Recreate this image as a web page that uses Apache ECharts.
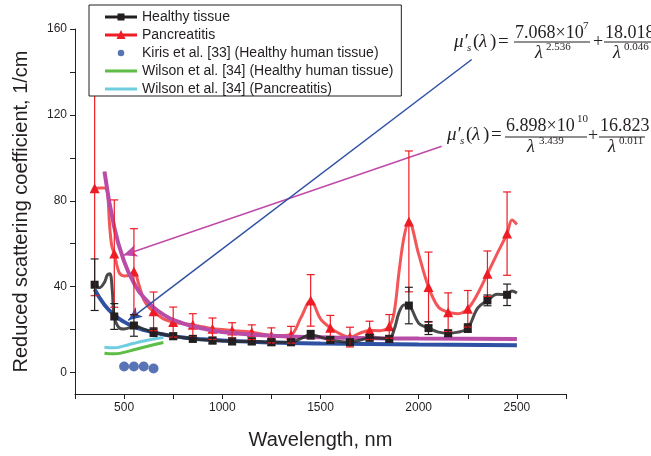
<!DOCTYPE html>
<html>
<head>
<meta charset="utf-8">
<script src="https://cdn.jsdelivr.net/npm/echarts@6/dist/echarts.min.js"></script>
<style>html,body{margin:0;padding:0;background:#fff}#c{width:651px;height:456px}</style>
</head>
<body>
<div id="c"></div>
<script>
// ---- data ----
const markerWl = [350,450,550,650,750,850,950,1050,1150,1250,1350,1450,1550,1650,1750,1850,1950,2050,2150,2250,2350,2450];
const healthy = [40.9,26.1,21.9,18.8,16.9,15.7,14.9,14.5,14.5,14.1,14.1,17.6,15.2,14.1,16.2,15.7,31.2,20.7,18.3,20.7,33.6,36.2];
const healthyErr = [12,6,5,2,1.5,1.5,1.5,1.5,1.5,1.5,1.5,2,1.5,1.5,1.5,1.5,8.5,3,1.5,2,2.5,5];
const panc = [85.8,55.4,47,28.5,23.5,22.2,20.4,19.6,18.8,17.3,17.6,33.6,20.8,16.5,19.6,21.5,70.4,39.8,28.1,29.7,46,64.7];
const pancErr = [50,25,20,9,7,5.2,5,3.6,3.4,3.5,3.9,12,5.8,4.6,4.3,5.5,32.8,16.3,9,8.5,10.6,19.4];
// intermediate points of the smoothed measured curves
const healthyExtraWl = [375,400,415,428,440,475,500,525,600,700,800,900,1000,1100,1200,1300,1400,1500,1600,1700,1800,1875,1900,1925,2000,2100,2200,2300,2400,2475,2500];
const healthyExtra = [39.5,42,45.5,46,38,20.8,20.3,20.8,20.2,17.8,16.3,15.3,14.7,14.4,14.3,14.1,15.8,16.5,14.4,15,16,20,28,31.5,23,18.8,18.8,30,36.5,38,37];
const pancExtraWl = [375,400,415,425,437,475,500,525,575,600,625,700,800,900,1000,1100,1200,1300,1400,1500,1600,1700,1800,1875,1900,1925,2000,2100,2200,2300,2400,2475,2500];
const pancExtra = [86,86,84,70,59,46.5,45,45.2,41,34,30.5,25,22.7,21.3,20,19.2,18,17.2,25.5,25,18,18.3,19.5,28,47,63,55,30.5,27.4,36.7,55.5,71,69];
const kirisWl = [500,550,600,650];
const kiris = [2.8,2.8,2.8,1.9];
const wilsonWl = [400,450,500,550,600,650,700];
const wilsonHealthy = [9.0,8.7,9.4,10.6,11.8,12.9,14.0];
const wilsonPanc = [11.8,11.5,12.4,13.6,14.7,15.6,16.3];
const fitHealthyWl = [350,400,450,500,550,600,700,800,900,1000,1200,1500,2000,2500];
const fitHealthy = [38.7,31.5,26.8,23.6,21.4,19.8,17.7,16.35,15.45,14.9,14.15,13.55,13.06,12.74];
const fitPancWl = [400,450,500,550,600,700,800,900,1000,1200,1500,2000,2500];
const fitPanc = [93.6,67.6,51.8,41.7,35,27,22.9,20.5,18.9,17.4,16.4,15.8,15.6];
const xLabels = [500,1000,1500,2000,2500];
const yLabels = [0,40,80,120,160];
const yTicks = [0,20,40,60,80,100,120,140,160];

const names = {
  h:'Healthy tissue', p:'Pancreatitis', k:'Kiris et al. [33] (Healthy human tissue)',
  wh:'Wilson et al. [34] (Healthy human tissue)', wp:'Wilson et al. [34] (Pancreatitis)'
};

function mergeCurve(mW, mV, eW, eV){
  const pts = mW.map((w,i)=>({value:[w,mV[i]]}));
  eW.forEach((w,i)=>pts.push({value:[w,eV[i]], symbol:'none'}));
  pts.sort((a,b)=>a.value[0]-b.value[0]);
  return pts;
}
const zip = (a,b)=>a.map((v,i)=>[v,b[i]]);

function errRender(color){
  return function(params, api){
    const x = api.value(0), y = api.value(1), e = api.value(2);
    const t = api.coord([x, y+e]), b = api.coord([x, y-e]);
    const hw = 4;
    const st = {stroke:color, lineWidth:1.2};
    return {type:'group', children:[
      {type:'line', shape:{x1:t[0],y1:t[1],x2:b[0],y2:b[1]}, style:st},
      {type:'line', shape:{x1:t[0]-hw,y1:t[1],x2:t[0]+hw,y2:t[1]}, style:st},
      {type:'line', shape:{x1:b[0]-hw,y1:b[1],x2:b[0]+hw,y2:b[1]}, style:st}
    ]};
  };
}

const TXT = '#231f20';
const SERIF = '"Liberation Serif","DejaVu Serif",serif';
function t(text, x, y, size, italic, align){
  return {type:'text', x:x, y:y, z:100, style:{text:text, fill:TXT,
    font:(italic?'italic ':'')+size+'px '+SERIF, align:align||'left', verticalAlign:'middle'}};
}
function hl(x1,x2,y){ return {type:'line', z:100, shape:{x1:x1,y1:y,x2:x2,y2:y}, style:{stroke:TXT, lineWidth:1}}; }

const graphics = [
  // equation 1
  t('μ′',454,42,19,true), t('s',467,48,11,true), t('(',473,42,19,false), t('λ',479,42,19,true), t(')',490,42,19,false), t('=',498,42,19,false),
  t('7.068×10',515,33,18,false), t('7',583,26,11,false), hl(514,590,42),
  t('λ',535,53,18,true), t('2.536',546,47,11,false),
  t('+',593,42,18,false),
  t('18.018',605,33,18,false), hl(604,651,42),
  t('λ',613,53,18,true), t('0.046',624,47,11,false),
  // equation 2
  t('μ′',447,135,19,true), t('s',460,141,11,true), t('(',466,135,19,false), t('λ',472,135,19,true), t(')',483,135,19,false), t('=',491,135,19,false),
  t('6.898×10',506,126,18,false), t('10',577,119,11,false), hl(505,587,137),
  t('λ',527,147,18,true), t('3.439',539,141,11,false),
  t('+',588,136,18,false),
  t('16.823',600,126,18,false), hl(599,645,137),
  t('λ',608,147,18,true), t('0.011',619,141,11,false)
];

// legend icon shapes in a 64x28 box (maps onto the 32x14 icon area)
const BOX = 'path://M0,0h0.01v0.01h-0.01zM64,28h-0.01v-0.01h0.01z';
const LINE = 'M0,11h64v6h-64z';
const chart = echarts.init(document.getElementById('c'), null, {renderer:'canvas'});
chart.setOption({
  animation:false,
  backgroundColor:'#fff',
  textStyle:{fontFamily:'"Liberation Sans", Arial, sans-serif', color:TXT},
  grid:{left:75, right:85, top:29, bottom:62},
  legend:{
    orient:'vertical', left:89, top:5, itemWidth:32, itemHeight:14, itemGap:4,
    padding:[5,8,0,16], borderColor:TXT, borderWidth:1, borderRadius:0, backgroundColor:'#fff',
    textStyle:{fontSize:14, color:TXT, lineHeight:14, fontFamily:'"Liberation Sans", Arial, sans-serif'},
    data:[
      {name:names.h, icon:BOX+LINE+'M25,7h14v14h-14z'},
      {name:names.p, icon:BOX+LINE+'M32,4L41,22L23,22Z'},
      {name:names.k, icon:BOX+'M38.5,14A6.5,6.5 0 1 1 25.5,14A6.5,6.5 0 1 1 38.5,14Z'},
      {name:names.wh, icon:BOX+LINE},
      {name:names.wp, icon:BOX+LINE}],
    z:10
  },
  xAxis:{
    type:'value', min:250, max:2750, interval:250,
    name:'Wavelength, nm', nameLocation:'middle', nameGap:36,
    nameTextStyle:{fontSize:20, color:TXT},
    axisLine:{onZero:false, lineStyle:{color:TXT, width:1}},
    axisTick:{length:5, lineStyle:{color:TXT}},
    axisLabel:{fontSize:12, color:TXT, margin:8, formatter:v=>xLabels.includes(v)?String(v):''},
    splitLine:{show:false}
  },
  yAxis:{
    type:'value', min:-10, max:160,
    name:'Reduced scattering coefficient, 1/cm', nameLocation:'middle', nameGap:44,
    nameTextStyle:{fontSize:20, color:TXT},
    axisLine:{show:true, onZero:false, lineStyle:{color:TXT, width:1}},
    axisTick:{show:true, length:5, lineStyle:{color:TXT}, customValues:yTicks},
    axisLabel:{fontSize:12, color:TXT, margin:8, customValues:yLabels},
    splitLine:{show:false}
  },
  graphic:graphics,
  series:[
    {name:names.p, type:'line', z:2, smooth:0.35, data:mergeCurve(markerWl,panc,pancExtraWl,pancExtra),
      symbol:'triangle', symbolSize:10, showAllSymbol:true,
      lineStyle:{color:'#f0383b', width:3, opacity:0.85}, itemStyle:{color:'#ee1c25'}},
    {name:'fitP', type:'line', z:3, smooth:true, data:zip(fitPancWl,fitPanc), symbol:'none',
      lineStyle:{color:'#b84ca7', width:4},
      markLine:{silent:true, symbol:['none','arrow'], symbolSize:[9,14], label:{show:false},
        lineStyle:{color:'#c04aa9', width:1.5, type:'solid'},
        data:[[{coord:[2117,105.4]},{coord:[496,54.6]}]]}},
    {name:'fitH', type:'line', z:3, smooth:true, data:zip(fitHealthyWl,fitHealthy), symbol:'none',
      lineStyle:{color:'#2f51a3', width:4},
      markLine:{silent:true, symbol:['none','arrow'], symbolSize:[9,14], label:{show:false},
        lineStyle:{color:'#2f51a3', width:1.5, type:'solid'},
        data:[[{coord:[2270,145.8]},{coord:[521,24.3]}]]}},
    {name:names.wh, type:'line', z:3, smooth:true, data:zip(wilsonWl,wilsonHealthy), symbol:'none',
      lineStyle:{color:'#5dbd45', width:3}, itemStyle:{color:'#5dbd45'}},
    {name:names.wp, type:'line', z:3, smooth:true, data:zip(wilsonWl,wilsonPanc), symbol:'none',
      lineStyle:{color:'#6fcde0', width:3}, itemStyle:{color:'#6fcde0'}},
    {name:names.k, type:'scatter', z:3, data:zip(kirisWl,kiris), symbol:'circle', symbolSize:10,
      itemStyle:{color:'#2f51a3'}},
    {name:names.h, type:'line', z:4, smooth:0.35, data:mergeCurve(markerWl,healthy,healthyExtraWl,healthyExtra),
      symbol:'rect', symbolSize:8, showAllSymbol:true,
      lineStyle:{color:'#2a2a2a', width:3, opacity:0.85}, itemStyle:{color:'#231f20'}},
    {name:'errP', type:'custom', z:5, renderItem:errRender('#ee1c25'),
      data:markerWl.map((w,i)=>[w,panc[i],pancErr[i]]), encode:{x:0,y:1}},
    {name:'errH', type:'custom', z:5, renderItem:errRender('#231f20'),
      data:markerWl.map((w,i)=>[w,healthy[i],healthyErr[i]]), encode:{x:0,y:1}}
  ]
});
</script>
</body>
</html>
